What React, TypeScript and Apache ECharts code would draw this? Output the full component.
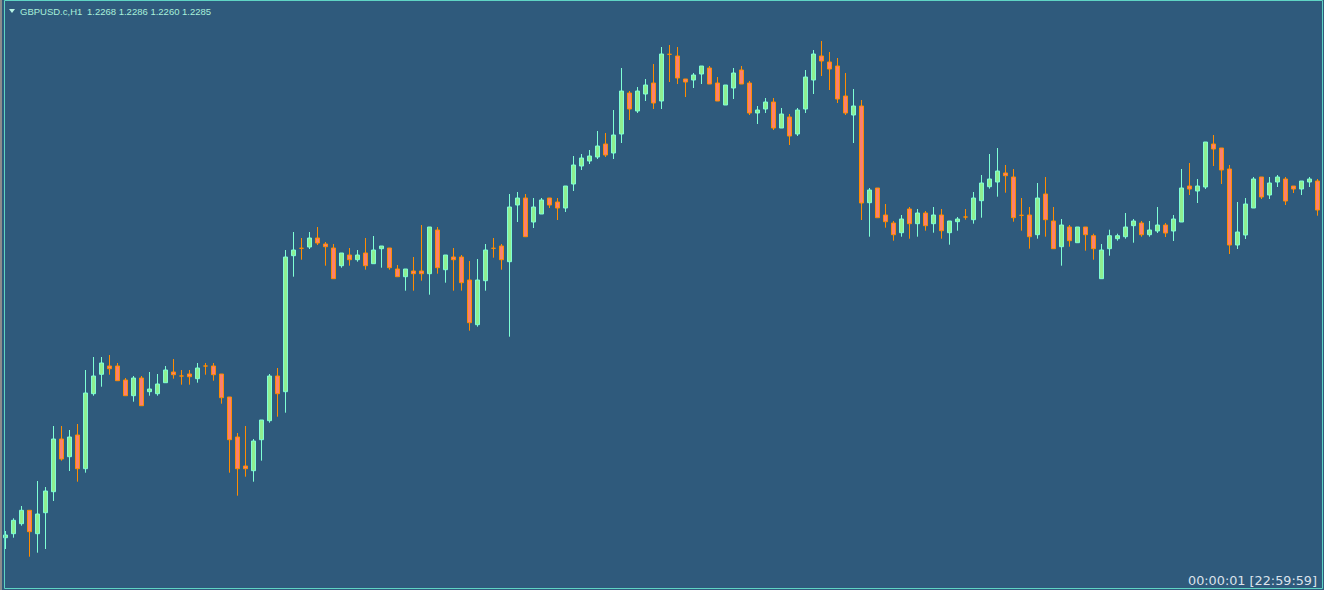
import React, { useEffect, useRef } from "react";
import * as echarts from "echarts";

const symbolTitle = "GBPUSD.c,H1";
const quoteTitle = "1.2268 1.2286 1.2260 1.2285";
const timerText = "00:00:01 [22:59:59]";

const opens = [
  1.19623, 1.19663, 1.19763, 1.19897, 1.19663, 1.19873, 1.20083, 1.2061, 1.20433, 1.2065,
  1.20313, 1.21063, 1.21257, 1.2134, 1.2134, 1.212, 1.21043, 1.2122, 1.21083, 1.21063,
  1.21173, 1.2128, 1.2124, 1.2126, 1.21213, 1.2134, 1.2134, 1.2126, 1.2103, 1.2063,
  1.2034, 1.20293, 1.20603, 1.20793, 1.2124, 1.21083, 1.22443, 1.22517, 1.2253, 1.2262,
  1.2256, 1.2252, 1.22343, 1.2245, 1.22403, 1.2247, 1.22363, 1.22513, 1.2252, 1.2231,
  1.22233, 1.2229, 1.2229, 1.22263, 1.227, 1.22303, 1.2243, 1.2243, 1.222, 1.21753,
  1.22193, 1.22517, 1.2254, 1.22383, 1.2295, 1.2302, 1.2278, 1.2286, 1.2302, 1.2298,
  1.2292, 1.2316, 1.2334, 1.2339, 1.2343, 1.2356, 1.2347, 1.2366, 1.2407, 1.2389,
  1.2406, 1.2417, 1.2399, 1.24457, 1.2444, 1.2421, 1.242, 1.2426, 1.2432, 1.2417,
  1.2395, 1.2412, 1.243, 1.2417, 1.2387, 1.2391, 1.2398, 1.2372, 1.2383, 1.2366,
  1.2391, 1.242, 1.2444, 1.2438, 1.2434, 1.2404, 1.2385, 1.2394, 1.22973, 1.2312,
  1.2285, 1.2277, 1.22673, 1.2291, 1.22763, 1.2287, 1.22763, 1.2285, 1.22673, 1.22783,
  1.2283, 1.22803, 1.22993, 1.23133, 1.2318, 1.2327, 1.2323, 1.22847, 1.2285, 1.22653,
  1.2306, 1.2279, 1.22533, 1.2273, 1.22573, 1.2273, 1.22643, 1.22213, 1.22513, 1.22613,
  1.22633, 1.22743, 1.2277, 1.22653, 1.2269, 1.2275, 1.2269, 1.2278, 1.2314, 1.2309,
  1.2313, 1.2356, 1.2352, 1.2331, 1.2255, 1.2265, 1.2292, 1.2323, 1.2305, 1.2318,
  1.2321, 1.2314, 1.2311, 1.2318, 1.2319,
];

const closes = [
  1.1965, 1.19797, 1.19897, 1.19683, 1.1986, 1.2009, 1.2061, 1.2041, 1.2063, 1.20313,
  1.2107, 1.2124, 1.2137, 1.21313, 1.21193, 1.21043, 1.2122, 1.20943, 1.2111, 1.2116,
  1.213, 1.21253, 1.2124, 1.21233, 1.2132, 1.2134, 1.21253, 1.21023, 1.20603, 1.20313,
  1.20313, 1.2059, 1.208, 1.2124, 1.21063, 1.2243, 1.225, 1.22517, 1.2262, 1.2257,
  1.22533, 1.22213, 1.2247, 1.22403, 1.2245, 1.22343, 1.225, 1.2254, 1.22323, 1.22233,
  1.2231, 1.22263, 1.22263, 1.2273, 1.22323, 1.2245, 1.22403, 1.22173, 1.21773, 1.222,
  1.225, 1.22517, 1.22403, 1.2293, 1.2302, 1.22633, 1.2293, 1.23, 1.2295, 1.2292,
  1.2314, 1.2335, 1.2342, 1.2344, 1.2354, 1.2345, 1.2365, 1.2409, 1.2391, 1.2409,
  1.2415, 1.2397, 1.2446, 1.24457, 1.2422, 1.2418, 1.2425, 1.2434, 1.2416, 1.2399,
  1.2415, 1.2427, 1.2416, 1.2387, 1.239, 1.2398, 1.2372, 1.2386, 1.2364, 1.239,
  1.2423, 1.2446, 1.2439, 1.2431, 1.2401, 1.2387, 1.2394, 1.2297, 1.231, 1.22823,
  1.22783, 1.22653, 1.2281, 1.22763, 1.2287, 1.22743, 1.2285, 1.22693, 1.2279, 1.2281,
  1.2283, 1.2302, 1.2317, 1.2321, 1.2329, 1.23243, 1.22823, 1.22847, 1.22633, 1.2302,
  1.22803, 1.22513, 1.2275, 1.22593, 1.2273, 1.22653, 1.22513, 1.225, 1.22643, 1.22643,
  1.2273, 1.2279, 1.22653, 1.227, 1.2275, 1.2267, 1.2281, 1.2312, 1.2311, 1.2314,
  1.2358, 1.2351, 1.233, 1.2255, 1.2268, 1.2296, 1.2321, 1.2303, 1.2317, 1.2323,
  1.2299, 1.2311, 1.2319, 1.2321, 1.229,
];

const highs = [
  1.1969, 1.19817, 1.1994, 1.19897, 1.2019, 1.2013, 1.2074, 1.2074, 1.207, 1.2076,
  1.213, 1.2143, 1.2143, 1.2145, 1.2137, 1.2122, 1.2124, 1.2124, 1.2128, 1.2126,
  1.2134, 1.2141, 1.213, 1.213, 1.2137, 1.2137, 1.2137, 1.2126, 1.2103, 1.2067,
  1.2074, 1.2061, 1.208, 1.2126, 1.2132, 1.225, 1.2268, 1.2262, 1.2268, 1.2273,
  1.2258, 1.2256, 1.2247, 1.2252, 1.225, 1.2262, 1.2264, 1.2254, 1.2252, 1.2235,
  1.2231, 1.2243, 1.2275, 1.2273, 1.2273, 1.2245, 1.2252, 1.2245, 1.2239, 1.2241,
  1.2256, 1.2262, 1.2256, 1.2306, 1.2308, 1.2306, 1.2302, 1.2302, 1.2302, 1.2302,
  1.2314, 1.2344, 1.2346, 1.235, 1.2369, 1.2367, 1.239, 1.2432, 1.2409, 1.2413,
  1.2421, 1.2436, 1.2453, 1.2455, 1.2453, 1.2421, 1.2427, 1.2434, 1.2434, 1.2423,
  1.2415, 1.2432, 1.2434, 1.2419, 1.2394, 1.2402, 1.2402, 1.2392, 1.2386, 1.2392,
  1.243, 1.245, 1.2459, 1.2448, 1.2442, 1.2427, 1.2411, 1.24, 1.2312, 1.2312,
  1.2296, 1.2279, 1.2285, 1.2293, 1.2291, 1.2289, 1.2293, 1.2291, 1.2279, 1.2283,
  1.2291, 1.2308, 1.2325, 1.2346, 1.2352, 1.2335, 1.2331, 1.2302, 1.2293, 1.2317,
  1.2323, 1.2293, 1.2281, 1.2275, 1.2273, 1.2273, 1.22663, 1.2256, 1.22703, 1.22663,
  1.2287, 1.2281, 1.2279, 1.2279, 1.2293, 1.2277, 1.2285, 1.2331, 1.2337, 1.2321,
  1.2358, 1.2365, 1.2352, 1.2335, 1.2298, 1.2302, 1.2323, 1.2323, 1.2323, 1.2325,
  1.2323, 1.2314, 1.2319, 1.2323, 1.2321,
];

const lows = [
  1.1951, 1.19623, 1.19743, 1.19433, 1.19473, 1.1951, 1.1999, 1.20393, 1.2029, 1.20183,
  1.20273, 1.21043, 1.21133, 1.21253, 1.21193, 1.21043, 1.20983, 1.20943, 1.21043, 1.21043,
  1.21173, 1.21213, 1.21153, 1.21153, 1.21173, 1.21253, 1.21193, 1.20963, 1.20273, 1.20043,
  1.20233, 1.20183, 1.20393, 1.20773, 1.20833, 1.20873, 1.22233, 1.22403, 1.2251, 1.2255,
  1.22343, 1.22213, 1.22323, 1.22343, 1.22383, 1.22303, 1.22363, 1.22323, 1.22303, 1.22233,
  1.22093, 1.22093, 1.22193, 1.22053, 1.22263, 1.22173, 1.22093, 1.22093, 1.21693, 1.21733,
  1.22093, 1.22423, 1.22303, 1.21633, 1.2278, 1.22633, 1.2272, 1.2286, 1.2292, 1.228,
  1.2288, 1.2309, 1.233, 1.2336, 1.2341, 1.2343, 1.2341, 1.2357, 1.238, 1.2387,
  1.2399, 1.2391, 1.2391, 1.2418, 1.2416, 1.2403, 1.2412, 1.2416, 1.2416, 1.2399,
  1.2395, 1.2401, 1.2416, 1.2385, 1.2376, 1.2387, 1.237, 1.2372, 1.2355, 1.2364,
  1.2387, 1.2406, 1.2424, 1.241, 1.2397, 1.2385, 1.2357, 1.228, 1.22633, 1.22823,
  1.22723, 1.22593, 1.22633, 1.22613, 1.22633, 1.22693, 1.22673, 1.22613, 1.22553, 1.22693,
  1.22803, 1.22763, 1.22823, 1.23113, 1.23033, 1.23073, 1.22783, 1.22693, 1.22513, 1.22613,
  1.22633, 1.22513, 1.22343, 1.22533, 1.22573, 1.22493, 1.22403, 1.22213, 1.22443, 1.22593,
  1.22613, 1.22573, 1.22633, 1.22633, 1.2267, 1.2263, 1.2259, 1.2278, 1.2305, 1.2297,
  1.2311, 1.2334, 1.2316, 1.2246, 1.2251, 1.2261, 1.2292, 1.2301, 1.2301, 1.2313,
  1.2295, 1.2307, 1.2305, 1.2313, 1.22843,
];

const barLabels = opens.map((_, i) => `H${i + 1}`);

const BG = "#2f5a7c";
const BULL_FILL = "#90ee90";
const BULL_LINE = "#7fffd4";
const BEAR_FILL = "#fa8072";
const BEAR_LINE = "#ff8c00";

export default function App() {
  const ref = useRef<HTMLDivElement>(null);

  useEffect(() => {
    document.body.style.margin = "0";
    document.body.style.overflow = "hidden";
    const chart = echarts.init(ref.current!, null, { renderer: "svg" });
    const data = opens.map((o, i) => [o, closes[i], lows[i], highs[i]]);
    chart.setOption({
      animation: false,
      backgroundColor: BG,
      grid: { left: 1.3, right: 2.7, top: 0, bottom: 0 },
      xAxis: {
        type: "category",
        data: barLabels,
        boundaryGap: true,
        show: false,
      },
      yAxis: {
        type: "value",
        min: 1.191,
        max: 1.25,
        show: false,
        splitLine: { show: false },
      },
      series: [
        {
          type: "candlestick",
          data,
          barWidth: 4,
          itemStyle: {
            color: BULL_FILL,
            color0: BEAR_FILL,
            borderColor: BULL_LINE,
            borderColor0: BEAR_LINE,
            borderColorDoji: BEAR_LINE,
            borderWidth: 1,
          },
        },
      ],
      graphic: [
        { type: "rect", z: 100, shape: { x: 0, y: 0, width: 2, height: 590 }, style: { fill: "#8c8c8c" } },
        {
          type: "rect",
          z: 100,
          shape: { x: 4.5, y: 0.5, width: 1318, height: 588 },
          style: { fill: "none", stroke: "#5fd4c4", lineWidth: 1 },
        },
        {
          type: "polygon",
          z: 101,
          shape: { points: [[9, 9], [15, 9], [12, 13]] },
          style: { fill: "#b8f4e4" },
        },
        {
          type: "text",
          z: 101,
          x: 20,
          y: 6,
          style: {
            text: symbolTitle,
            fill: "#a8f0da",
            font: '9.5px "Liberation Sans"',
          },
        },
        {
          type: "text",
          z: 101,
          x: 87,
          y: 6,
          style: {
            text: quoteTitle,
            fill: "#a8f0da",
            font: '9.5px "Liberation Sans"',
          },
        },
        {
          type: "text",
          z: 101,
          x: 1317,
          y: 574,
          style: {
            text: timerText,
            fill: "#dce3ec",
            font: '12.8px "DejaVu Sans"',
            align: "right",
            textAlign: "right",
          },
        },
      ],
    });
    return () => chart.dispose();
  }, []);

  return <div ref={ref} style={{ width: 1324, height: 590 }} />;
}
